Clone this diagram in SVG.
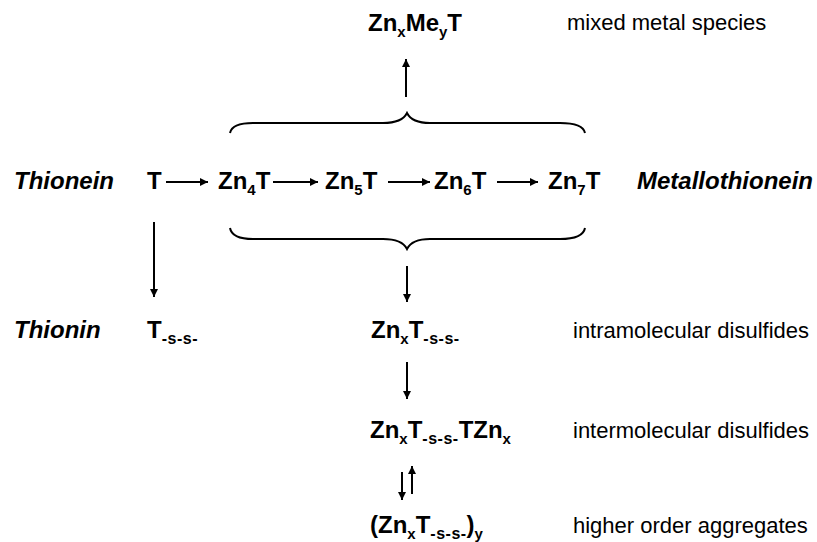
<svg xmlns="http://www.w3.org/2000/svg" width="817" height="542" viewBox="0 0 817 542">
<style>
.b{font-family:"Liberation Sans",Arial,sans-serif;font-weight:bold;font-size:24px;fill:#000}
.bi{font-family:"Liberation Sans",Arial,sans-serif;font-weight:bold;font-style:italic;font-size:24px;fill:#000}
.r{font-family:"Liberation Sans",Arial,sans-serif;font-size:22px;fill:#000}
.s{font-size:15px}
.ss{font-size:16px;letter-spacing:0.5px}
.ln{stroke:#000;stroke-width:2;fill:none}
</style>
<defs>
<marker id="ah" viewBox="0 0 10 10" refX="10" refY="5" markerWidth="9" markerHeight="8" markerUnits="userSpaceOnUse" orient="auto">
<path d="M0,0 L10,5 L0,10 Z" fill="#000"/>
</marker>
</defs>
<g id="connectors">
<line class="ln" x1="166" y1="182" x2="208" y2="182" marker-end="url(#ah)"/>
<line class="ln" x1="273" y1="182" x2="318" y2="182" marker-end="url(#ah)"/>
<line class="ln" x1="388" y1="182" x2="430" y2="182" marker-end="url(#ah)"/>
<line class="ln" x1="497" y1="182" x2="538" y2="182" marker-end="url(#ah)"/>
<path class="ln" d="M230,133 Q232,123 253,123 L383,123 Q402,123 407,113 Q412,123 430,123 L560,123 Q583,123 585,133"/>
<path class="ln" d="M230,228 Q232,239 253,239 L383,239 Q402,239 407,249 Q412,239 430,239 L560,239 Q583,239 585,228"/>
<line class="ln" x1="406" y1="97" x2="406" y2="59" marker-end="url(#ah)"/>
<line class="ln" x1="154" y1="222" x2="154" y2="297" marker-end="url(#ah)"/>
<line class="ln" x1="407" y1="266" x2="407" y2="302" marker-end="url(#ah)"/>
<line class="ln" x1="407" y1="362" x2="407" y2="399" marker-end="url(#ah)"/>
<line class="ln" x1="402" y1="472" x2="402" y2="500" marker-end="url(#ah)"/>
<line class="ln" x1="412" y1="494" x2="412" y2="466" marker-end="url(#ah)"/>
</g>
<g id="mixed"><text class="b" x="368" y="31">Zn<tspan class="s" dy="6">x</tspan><tspan dy="-6">Me</tspan><tspan class="s" dy="6">y</tspan><tspan dy="-6">T</tspan></text></g>
<g id="mixed-label"><text class="r" x="567" y="30">mixed metal species</text></g>
<g id="thionein"><text class="bi" x="14" y="189">Thionein</text></g>
<g id="T"><text class="b" x="147" y="189">T</text></g>
<g id="Zn4T"><text class="b" x="218" y="189">Zn<tspan class="s" dy="6">4</tspan><tspan dy="-6">T</tspan></text></g>
<g id="Zn5T"><text class="b" x="325" y="189">Zn<tspan class="s" dy="6">5</tspan><tspan dy="-6">T</tspan></text></g>
<g id="Zn6T"><text class="b" x="434" y="189">Zn<tspan class="s" dy="6">6</tspan><tspan dy="-6">T</tspan></text></g>
<g id="Zn7T"><text class="b" x="548" y="189">Zn<tspan class="s" dy="6">7</tspan><tspan dy="-6">T</tspan></text></g>
<g id="metallothionein"><text class="bi" x="637" y="189">Metallothionein</text></g>
<g id="thionin"><text class="bi" x="14" y="338">Thionin</text></g>
<g id="Tss"><text class="b" x="147" y="338">T<tspan class="ss" dy="6">-s-s-</tspan></text></g>
<g id="ZnxTss"><text class="b" x="371" y="338">Zn<tspan class="s" dy="6">x</tspan><tspan dy="-6">T</tspan><tspan class="ss" dy="6">-s-s-</tspan></text></g>
<g id="intra-label"><text class="r" x="573" y="338">intramolecular disulfides</text></g>
<g id="ZnxTssTZnx"><text class="b" x="370" y="438">Zn<tspan class="s" dy="6">x</tspan><tspan dy="-6">T</tspan><tspan class="ss" dy="6">-s-s-</tspan><tspan dy="-6">TZn</tspan><tspan class="s" dy="6">x</tspan></text></g>
<g id="inter-label"><text class="r" x="573" y="438">intermolecular disulfides</text></g>
<g id="aggregates"><text class="b" x="370" y="533">(Zn<tspan class="s" dy="6">x</tspan><tspan dy="-6">T</tspan><tspan class="ss" dy="6">-s-s-</tspan><tspan dy="-6">)</tspan><tspan class="s" dy="6">y</tspan></text></g>
<g id="agg-label"><text class="r" x="573" y="533">higher order aggregates</text></g>
</svg>
